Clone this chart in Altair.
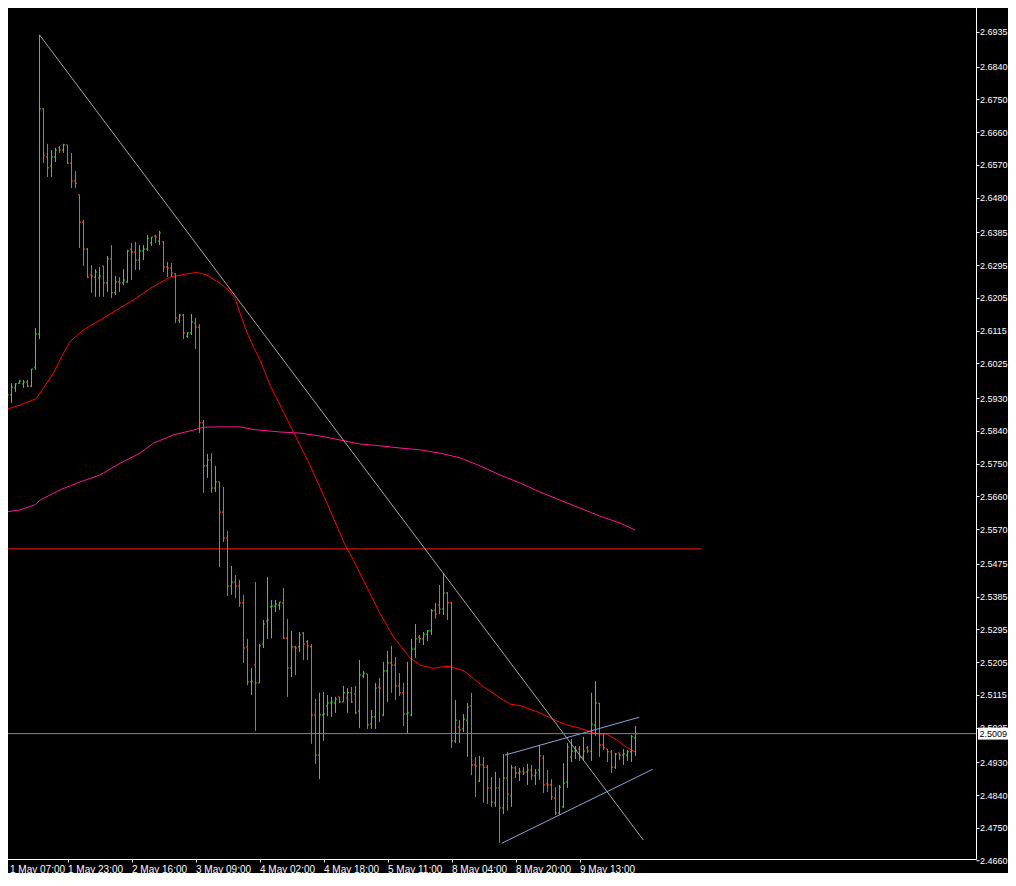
import json
import numpy as np
import pandas as pd
import altair as alt

# ---------------- data (hourly OHLC bars) ----------------
opens = [
    2.5958, 2.5963, 2.5939, 2.5958, 2.5971, 2.5969, 2.5974, 2.5963, 2.6015, 2.6106,
    2.6724, 2.6592, 2.6567, 2.6592, 2.6617, 2.6611, 2.6625, 2.6575, 2.6526, 2.6488,
    2.6413, 2.6339, 2.6268, 2.6262, 2.6260, 2.6293, 2.6246, 2.6312, 2.6219, 2.6249,
    2.6246, 2.6249, 2.6339, 2.6331, 2.6309, 2.6334, 2.6339, 2.6356, 2.6375, 2.6361,
    2.6359, 2.6290, 2.6287, 2.6271, 2.6144, 2.6158, 2.6100, 2.6109, 2.6136, 2.6125,
    2.5862, 2.5744, 2.5760, 2.5683, 2.5700, 2.5617, 2.5546, 2.5414, 2.5425, 2.5414,
    2.5368, 2.5247, 2.5151, 2.5197, 2.5148, 2.5255, 2.5318, 2.5357, 2.5359, 2.5362,
    2.5368, 2.5271, 2.5189, 2.5247, 2.5247, 2.5285, 2.5261, 2.5247, 2.5060, 2.4950,
    2.5060, 2.5085, 2.5093, 2.5093, 2.5110, 2.5096, 2.5107, 2.5121, 2.5118, 2.5071,
    2.5167, 2.5173, 2.5035, 2.5055, 2.5137, 2.5060, 2.5181, 2.5203, 2.5197, 2.5140,
    2.5121, 2.5063, 2.5060, 2.5241, 2.5274, 2.5269, 2.5282, 2.5291, 2.5348, 2.5362,
    2.5351, 2.5395, 2.5368, 2.4989, 2.5027, 2.5022, 2.5046, 2.5085, 2.4923, 2.4879,
    2.4923, 2.4917, 2.4860, 2.4819, 2.4860, 2.4805, 2.4887, 2.4838, 2.4915, 2.4901,
    2.4906, 2.4904, 2.4909, 2.4893, 2.4909, 2.4942, 2.4871, 2.4868, 2.4832, 2.4791,
    2.4808, 2.4876, 2.4945, 2.4961, 2.4967, 2.4945, 2.4970, 2.4961, 2.5033, 2.5093,
    2.4978, 2.4967, 2.4959, 2.4917, 2.4956, 2.4950, 2.4950, 2.4959, 2.4997,
]
highs = [
    2.5969, 2.5980, 2.5971, 2.5971, 2.5980, 2.5980, 2.5980, 2.6010, 2.6122, 2.6927,
    2.6726, 2.6628, 2.6611, 2.6617, 2.6622, 2.6628, 2.6625, 2.6603, 2.6553, 2.6488,
    2.6419, 2.6342, 2.6295, 2.6284, 2.6290, 2.6293, 2.6320, 2.6350, 2.6265, 2.6262,
    2.6284, 2.6337, 2.6356, 2.6359, 2.6350, 2.6350, 2.6378, 2.6372, 2.6378, 2.6389,
    2.6361, 2.6304, 2.6301, 2.6273, 2.6161, 2.6161, 2.6111, 2.6161, 2.6150, 2.6133,
    2.5870, 2.5777, 2.5779, 2.5744, 2.5700, 2.5686, 2.5565, 2.5469, 2.5444, 2.5431,
    2.5390, 2.5269, 2.5189, 2.5425, 2.5255, 2.5321, 2.5439, 2.5376, 2.5376, 2.5370,
    2.5409, 2.5324, 2.5291, 2.5250, 2.5288, 2.5288, 2.5266, 2.5255, 2.5104, 2.5121,
    2.5123, 2.5115, 2.5110, 2.5110, 2.5110, 2.5140, 2.5134, 2.5137, 2.5140, 2.5211,
    2.5181, 2.5173, 2.5074, 2.5148, 2.5162, 2.5206, 2.5236, 2.5250, 2.5219, 2.5175,
    2.5148, 2.5206, 2.5269, 2.5310, 2.5280, 2.5288, 2.5293, 2.5351, 2.5368, 2.5417,
    2.5450, 2.5398, 2.5370, 2.5101, 2.5046, 2.5063, 2.5093, 2.5121, 2.4945, 2.4948,
    2.4945, 2.4923, 2.4890, 2.4904, 2.4887, 2.4953, 2.4959, 2.4923, 2.4920, 2.4915,
    2.4917, 2.4926, 2.4923, 2.4912, 2.4978, 2.4950, 2.4909, 2.4884, 2.4862, 2.4868,
    2.4928, 2.4983, 2.4994, 2.4975, 2.4975, 2.5000, 2.4975, 2.5121, 2.5153, 2.5093,
    2.5008, 2.4967, 2.4964, 2.4956, 2.4956, 2.4967, 2.4964, 2.5005, 2.5030,
]
lows = [
    2.5952, 2.5930, 2.5917, 2.5947, 2.5969, 2.5958, 2.5960, 2.5960, 2.6007, 2.6092,
    2.6575, 2.6537, 2.6537, 2.6578, 2.6603, 2.6603, 2.6573, 2.6507, 2.6507, 2.6342,
    2.6293, 2.6260, 2.6219, 2.6208, 2.6208, 2.6208, 2.6221, 2.6205, 2.6213, 2.6221,
    2.6240, 2.6246, 2.6254, 2.6282, 2.6282, 2.6309, 2.6334, 2.6348, 2.6356, 2.6350,
    2.6276, 2.6262, 2.6262, 2.6136, 2.6136, 2.6092, 2.6095, 2.6103, 2.6065, 2.5834,
    2.5670, 2.5711, 2.5670, 2.5672, 2.5466, 2.5535, 2.5387, 2.5390, 2.5381, 2.5357,
    2.5203, 2.5142, 2.5115, 2.5016, 2.5148, 2.5244, 2.5269, 2.5271, 2.5343, 2.5348,
    2.5269, 2.5110, 2.5164, 2.5170, 2.5233, 2.5211, 2.5211, 2.4981, 2.4926, 2.4884,
    2.4989, 2.5057, 2.5055, 2.5066, 2.5093, 2.5096, 2.5066, 2.5093, 2.5063, 2.5024,
    2.5162, 2.5022, 2.5022, 2.5022, 2.5041, 2.5057, 2.5096, 2.5121, 2.5101, 2.5112,
    2.5030, 2.5008, 2.5057, 2.5217, 2.5258, 2.5252, 2.5263, 2.5280, 2.5324, 2.5337,
    2.5335, 2.5321, 2.4970, 2.4983, 2.4983, 2.5013, 2.4945, 2.4895, 2.4835, 2.4876,
    2.4819, 2.4816, 2.4808, 2.4808, 2.4709, 2.4788, 2.4797, 2.4808, 2.4887, 2.4879,
    2.4895, 2.4868, 2.4882, 2.4868, 2.4882, 2.4846, 2.4849, 2.4827, 2.4786, 2.4786,
    2.4805, 2.4860, 2.4931, 2.4939, 2.4934, 2.4934, 2.4956, 2.4934, 2.5003, 2.4945,
    2.4964, 2.4931, 2.4901, 2.4912, 2.4937, 2.4923, 2.4934, 2.4931, 2.4948,
]
closes = [
    2.5960, 2.5939, 2.5960, 2.5969, 2.5977, 2.5974, 2.5963, 2.6010, 2.6106, 2.6724,
    2.6595, 2.6562, 2.6592, 2.6611, 2.6611, 2.6625, 2.6575, 2.6526, 2.6520, 2.6413,
    2.6339, 2.6262, 2.6265, 2.6276, 2.6265, 2.6246, 2.6312, 2.6219, 2.6249, 2.6246,
    2.6254, 2.6334, 2.6331, 2.6309, 2.6334, 2.6339, 2.6369, 2.6372, 2.6372, 2.6383,
    2.6290, 2.6287, 2.6273, 2.6150, 2.6158, 2.6109, 2.6109, 2.6139, 2.6125, 2.5862,
    2.5744, 2.5760, 2.5683, 2.5700, 2.5617, 2.5546, 2.5414, 2.5425, 2.5414, 2.5368,
    2.5244, 2.5151, 2.5153, 2.5148, 2.5250, 2.5310, 2.5321, 2.5359, 2.5365, 2.5370,
    2.5271, 2.5189, 2.5247, 2.5244, 2.5280, 2.5255, 2.5250, 2.5060, 2.4950, 2.5060,
    2.5063, 2.5093, 2.5096, 2.5104, 2.5096, 2.5121, 2.5121, 2.5096, 2.5066, 2.5170,
    2.5175, 2.5033, 2.5055, 2.5134, 2.5134, 2.5181, 2.5203, 2.5197, 2.5140, 2.5121,
    2.5063, 2.5066, 2.5241, 2.5269, 2.5269, 2.5282, 2.5291, 2.5346, 2.5337, 2.5351,
    2.5395, 2.5368, 2.4989, 2.5046, 2.5019, 2.5049, 2.5082, 2.4923, 2.4920, 2.4923,
    2.4917, 2.4860, 2.4821, 2.4860, 2.4805, 2.4887, 2.4843, 2.4915, 2.4901, 2.4904,
    2.4901, 2.4909, 2.4895, 2.4901, 2.4948, 2.4868, 2.4868, 2.4835, 2.4791, 2.4862,
    2.4873, 2.4972, 2.4961, 2.4964, 2.4945, 2.4961, 2.4961, 2.5035, 2.5093, 2.4978,
    2.4970, 2.4959, 2.4917, 2.4953, 2.4950, 2.4953, 2.4959, 2.5000, 2.5009,
]

# time-axis labels (bar index -> label)
label_bars = [0, 16, 32, 48, 64, 80, 96, 112, 128, 144]
time_labels = ["1 May 07:00", "1 May 23:00", "2 May 16:00", "3 May 09:00", "4 May 02:00",
               "4 May 18:00", "5 May 11:00", "8 May 04:00", "8 May 20:00", "9 May 13:00"]

# price-axis labels
price_ticks = [2.6935, 2.6840, 2.6750, 2.6660, 2.6570, 2.6480, 2.6385, 2.6295, 2.6205,
               2.6115, 2.6025, 2.5930, 2.5840, 2.5750, 2.5660, 2.5570, 2.5475, 2.5385,
               2.5295, 2.5205, 2.5115, 2.5025, 2.4930, 2.4840, 2.4750, 2.4660]

# moving averages (bar index, price)
ma_fast_bar = [-0.875, 4.125, 7.375, 8.125, 9.95, 12.45, 14.55, 16.625, 19.95, 24.125,
               28.3, 32.45, 36.625, 41.625, 45.8, 48.3, 50.8, 54.125, 56.625, 57.875,
               59.125, 60.8, 62.45, 64.125, 66.625, 71.625, 76.625, 81.625, 85.375, 87.45,
               91.625, 94.125, 97.45, 99.95, 101.625, 104.125, 107.45, 109.95, 111.625,
               114.95, 117.45, 119.95, 122.45, 124.95, 126.625, 129.125, 131.625, 134.125,
               137.45, 140.8, 144.125, 146.625, 148.7, 150.8, 153.3, 155.8, 157.875]
ma_fast_price = [2.5893, 2.5911, 2.5925, 2.5928, 2.5957, 2.5998, 2.6044, 2.6085, 2.6117, 2.6144,
                 2.6172, 2.6199, 2.6231, 2.6262, 2.6271, 2.6275, 2.6268, 2.6245, 2.6222, 2.6204,
                 2.6163, 2.6112, 2.6071, 2.6035, 2.5966, 2.5856, 2.5746, 2.5623, 2.5527, 2.5486,
                 2.5394, 2.5339, 2.5275, 2.5240, 2.5217, 2.5197, 2.5188, 2.5193, 2.5193,
                 2.5182, 2.5161, 2.5138, 2.5120, 2.5101, 2.5090, 2.5086, 2.5076, 2.5066,
                 2.5048, 2.5033, 2.5024, 2.5014, 2.5008, 2.5008, 2.4992, 2.4971, 2.4959]

ma_slow_bar = [-0.875, 4.125, 7.875, 9.125, 14.125, 19.125, 24.125, 29.125, 34.125, 37.45,
               42.45, 47.45, 49.95, 54.125, 59.125, 62.45, 64.125, 69.125, 74.125, 79.125,
               84.125, 89.125, 94.125, 99.125, 104.125, 109.125, 114.125, 119.125, 124.125,
               129.125, 134.125, 139.125, 144.125, 149.125, 154.125, 157.875]
ma_slow_price = [2.5615, 2.5623, 2.5637, 2.5650, 2.5678, 2.5700, 2.5719, 2.5751, 2.5779, 2.5806,
                 2.5829, 2.5842, 2.5850, 2.5851, 2.5851, 2.5844, 2.5842, 2.5837, 2.5834, 2.5826,
                 2.5815, 2.5804, 2.5799, 2.5793, 2.5788, 2.5779, 2.5766, 2.5744, 2.5719,
                 2.5697, 2.5672, 2.5650, 2.5628, 2.5606, 2.5587, 2.5568]

# drawn objects
trend_bar = [9, 159.95]
trend_price = [2.6927, 2.4717]
chan_up_bar = [125.375, 158.95]
chan_up_price = [2.4950, 2.5054]
chan_lo_bar = [124.55, 162.3]
chan_lo_price = [2.4708, 2.4911]
level_bar = [-2.0, 174.4]
level_price = [2.5516, 2.5516]
bid_price = 2.5009

# ---------------- styling ----------------
GREEN = "#22E022"
ORANGE = "#FF5522"
FONT = "Liberation Sans"
PRICE_FS = 9
W, H = 976, 859
Y_MIN, Y_MAX = 2.46648, 2.70228

xs = alt.Scale(domain=[-0.875, 243.125], nice=False, zero=False)
ys = alt.Scale(domain=[Y_MIN, Y_MAX], nice=False, zero=False)

x_axis = alt.Axis(
    orient="bottom", values=label_bars, tickSize=3, labelPadding=2,
    labelAlign="left", labelBaseline="top", title=None, grid=False,
    labelFontSize=10,
    labelOffset=alt.condition("datum.value == 0", alt.value(6), alt.value(0)),
    labelExpr=f"{json.dumps(time_labels)}[indexof({json.dumps(label_bars)}, datum.value)]",
)
axis_prices = [p for p in price_ticks if p >= Y_MIN]
below_prices = [p for p in price_ticks if p < Y_MIN]
y_axis = alt.Axis(
    orient="right", values=axis_prices, format=".4f", tickSize=3, labelPadding=0.5,
    title=None, grid=False, labelBaseline="middle", labelFontSize=PRICE_FS,
)

bars = pd.DataFrame({
    "k": np.arange(len(opens)),
    "o": opens, "h": highs, "l": lows, "c": closes,
})
bars["dir"] = np.where(bars["c"] >= bars["o"], "up", "down")

color = alt.Color("dir:N", scale=alt.Scale(domain=["up", "down"], range=[GREEN, ORANGE]), legend=None)

base = alt.Chart(bars)

hl = base.mark_rule(strokeWidth=1, clip=True).encode(
    x=alt.X("k:Q", scale=xs, axis=x_axis),
    y=alt.Y("l:Q", scale=ys, axis=y_axis),
    y2="h:Q",
    color=color,
)
open_tick = base.transform_calculate(kl="datum.k - 0.375").mark_rule(strokeWidth=1, clip=True).encode(
    x=alt.X("kl:Q", scale=xs, axis=x_axis),
    x2="k:Q",
    y=alt.Y("o:Q", scale=ys, axis=y_axis),
    color=color,
)
close_tick = base.transform_calculate(kr="datum.k + 0.375").mark_rule(strokeWidth=1, clip=True).encode(
    x=alt.X("k:Q", scale=xs, axis=x_axis),
    x2="kr:Q",
    y=alt.Y("c:Q", scale=ys, axis=y_axis),
    color=color,
)


def line_layer(bars_list, prices_list, col, width=1):
    df = pd.DataFrame({"k": bars_list, "p": prices_list})
    return alt.Chart(df).mark_line(color=col, strokeWidth=width, clip=True).encode(
        x=alt.X("k:Q", scale=xs, axis=x_axis),
        y=alt.Y("p:Q", scale=ys, axis=y_axis),
    )


ma_slow = line_layer(ma_slow_bar, ma_slow_price, "#FF1493")
ma_fast = line_layer(ma_fast_bar, ma_fast_price, "#FF0000")
level = line_layer(level_bar, level_price, "#FF1A1A")
trend = line_layer(trend_bar, trend_price, "#A8A8A8")
chan_up = line_layer(chan_up_bar, chan_up_price, "#8AA6DA")
chan_lo = line_layer(chan_lo_bar, chan_lo_price, "#8AA6DA")

bid_df = pd.DataFrame({"p": [bid_price], "t": [f"{bid_price:.4f}"]})
bid_line = alt.Chart(bid_df).mark_rule(color="#778899", strokeWidth=1).encode(
    y=alt.Y("p:Q", scale=ys, axis=y_axis)
)
bid_box = alt.Chart(bid_df).mark_rect(color="white", clip=False, yOffset=-6, y2Offset=6).encode(
    x=alt.value(W + 2), x2=alt.value(W + 32),
    y=alt.Y("p:Q", scale=ys, axis=y_axis), y2="p:Q",
)
bid_text = alt.Chart(bid_df).mark_text(
    color="black", align="left", baseline="middle", font=FONT, fontSize=PRICE_FS, clip=False
).encode(
    x=alt.value(W + 3.5),
    y=alt.Y("p:Q", scale=ys, axis=y_axis),
    text="t:N",
)

# price labels that sit just below the plotted range (drawn like axis labels)
below_df = pd.DataFrame({"p": below_prices, "t": [f"{p:.4f}" for p in below_prices]})
below_tick = alt.Chart(below_df).mark_rule(color="white", strokeWidth=1, clip=False).encode(
    x=alt.value(W + 0.5), x2=alt.value(W + 3.5),
    y=alt.Y("p:Q", scale=ys, axis=y_axis),
)
below_text = alt.Chart(below_df).mark_text(
    color="white", align="left", baseline="middle", font=FONT, fontSize=PRICE_FS, clip=False
).encode(
    x=alt.value(W + 4),
    y=alt.Y("p:Q", scale=ys, axis=y_axis),
    text="t:N",
)

chart = alt.layer(
    ma_slow, ma_fast, level, hl, open_tick, close_tick, trend, chan_up, chan_lo,
    bid_line, bid_box, bid_text, below_tick, below_text,
).properties(
    width=W, height=H,
    padding={"left": -8, "top": -8, "right": 32, "bottom": 14},
    autosize=alt.AutoSizeParams(type="none"),
).configure(
    background="black",
).configure_view(
    stroke=None,
).configure_axis(
    domainColor="white", tickColor="white", labelColor="white",
    labelFont=FONT, domainWidth=1, tickWidth=1,
)

chart.save("out.html", embed_options={"renderer": "svg", "actions": False})
